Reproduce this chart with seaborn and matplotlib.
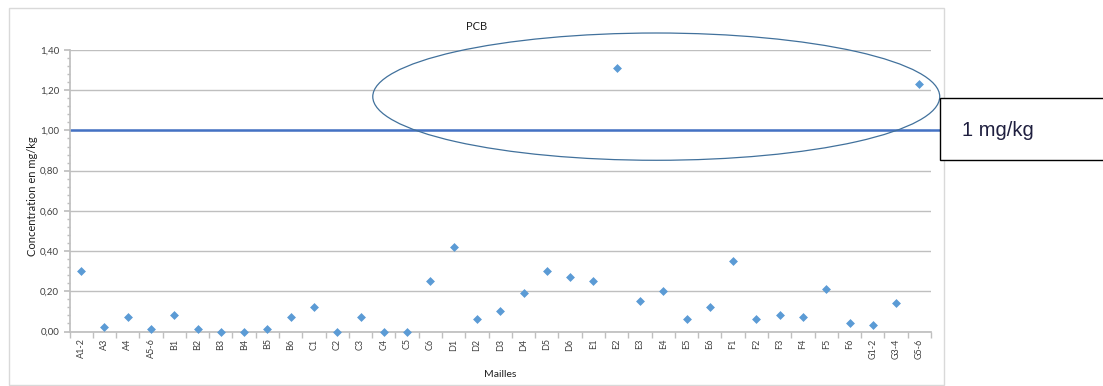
import matplotlib
matplotlib.use("Agg")
import matplotlib.pyplot as plt
import seaborn as sns
import pandas as pd
from matplotlib.patches import Ellipse, Rectangle
from matplotlib.ticker import MultipleLocator, FixedLocator, FuncFormatter

mailles = ["A1-2", "A3", "A4", "A5-6", "B1", "B2", "B3", "B4", "B5", "B6",
           "C1", "C2", "C3", "C4", "C5", "C6", "D1", "D2", "D3", "D4", "D5", "D6",
           "E1", "E2", "E3", "E4", "E5", "E6", "F1", "F2", "F3", "F4", "F5", "F6",
           "G1-2", "G3-4", "G5-6"]
pcb = [0.30, 0.02, 0.07, 0.01, 0.08, 0.01, 0.00, 0.00, 0.01, 0.07,
       0.12, 0.00, 0.07, 0.00, 0.00, 0.25, 0.42, 0.06, 0.10, 0.19, 0.30, 0.27,
       0.25, 1.31, 0.15, 0.20, 0.06, 0.12, 0.35, 0.06, 0.08, 0.07, 0.21, 0.04,
       0.03, 0.14, 1.23]
seuil = 1.0
seuil_label = "1 mg/kg"

df = pd.DataFrame({"Mailles": mailles, "PCB": pcb})

sns.set_theme(style="white")
plt.rcParams["font.family"] = ["Lato", "DejaVu Sans"]

W, H = 1103, 386
fig = plt.figure(figsize=(W / 100, H / 100), dpi=100)
ax = fig.add_axes([69.5 / W, 1 - 331.5 / H, (931 - 69.5) / W, (331.5 - 50) / H])

# chart area frame
fig.patches.append(Rectangle((9 / W, 1 - 385 / H), (944 - 9) / W, (385 - 8) / H,
                             transform=fig.transFigure, fill=False,
                             edgecolor="#D9D9D9", linewidth=1))

ax.set_ylim(0, 1.4)
ax.set_xlim(-0.5, len(mailles) - 0.5)
ax.yaxis.set_major_locator(MultipleLocator(0.2))
ax.yaxis.set_minor_locator(MultipleLocator(0.04))
ax.yaxis.set_major_formatter(FuncFormatter(lambda v, p: f"{v:.2f}".replace(".", ",")))
ax.grid(axis="y", which="major", color="#BFBFBF", linewidth=1)
ax.set_axisbelow(True)

sns.scatterplot(data=df, x="Mailles", y="PCB", marker="D", s=16,
                color="#5B9BD5", edgecolor="#5B9BD5", linewidth=0.5, ax=ax,
                zorder=3, clip_on=False)
ax.set_xlim(-0.5, len(mailles) - 0.5)

for s in ["top", "right"]:
    ax.spines[s].set_visible(False)
ax.spines["left"].set_color("#BFBFBF")
ax.spines["bottom"].set_color("#BFBFBF")

ax.set_xticks(range(len(mailles)))
ax.set_xticklabels(mailles, rotation=90, fontsize=6.5, color="#404040")
ax.xaxis.set_minor_locator(FixedLocator([i + 0.5 for i in range(-1, len(mailles))]))
ax.tick_params(axis="x", which="major", length=0, pad=5)
ax.tick_params(axis="x", which="minor", length=4, color="#BFBFBF", bottom=True)
ax.tick_params(axis="y", which="major", length=4, color="#BFBFBF", left=True, labelsize=7, labelcolor="#404040")
ax.tick_params(axis="y", which="minor", length=2.5, color="#BFBFBF", left=True)

ax.set_xlabel("Mailles", fontsize=7.5, color="#202020", labelpad=8)
ax.set_ylabel("Concentration en mg/kg", fontsize=8, color="#202020")
ax.yaxis.set_label_coords((38 - 69.5) / (931 - 69.5), 0.48)
fig.text(477 / W, 1 - 27 / H, "PCB", ha="center", va="center", fontsize=8, color="#202020")

# threshold line extending beyond the plot
ax.axhline(seuil, xmin=0, xmax=(944 - 69.5) / (931 - 69.5), color="#4472C4",
           linewidth=1.8, clip_on=False, zorder=2)

# ellipse highlighting exceedances
ax.add_patch(Ellipse((24.7, 1.168), 24.35, 0.633, fill=False, edgecolor="#41719C",
                     linewidth=0.9, clip_on=False, zorder=4))

# label box
fig.patches.append(Rectangle((940 / W, 1 - 160 / H), (1110 - 940) / W, (160 - 98) / H,
                             transform=fig.transFigure, facecolor="white",
                             edgecolor="#000000", linewidth=1, zorder=5))
fig.text(962 / W, 1 - 131 / H, seuil_label, ha="left", va="center", fontsize=14.5,
         family=["Liberation Sans", "DejaVu Sans"], color="#1F1F3F", zorder=6)

fig.savefig("out.png", dpi=100)
